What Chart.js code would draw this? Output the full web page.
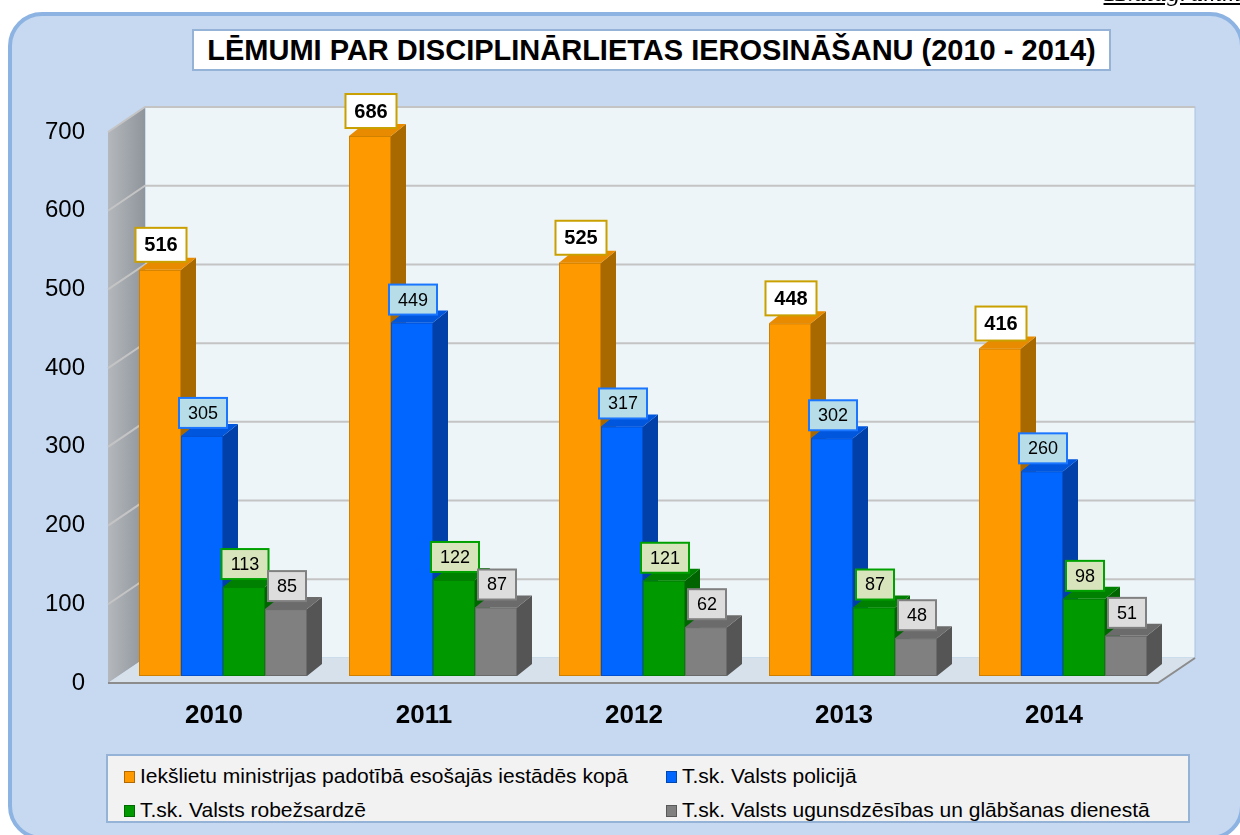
<!doctype html>
<html lang="lv">
<head>
  <meta charset="utf-8">
  <title>Lēmumi par disciplinārlietas ierosināšanu (2010 - 2014)</title>
  <style>
    * {
  margin: 0;
  padding: 0;
  box-sizing: border-box;
}
body {
  width: 1240px;
  height: 835px;
  overflow: hidden;
  position: relative;
  background: white;
  font-family: "Liberation Sans", Arial, sans-serif;
  color: black;
}
.diagNr {
  position: absolute;
  right: -14px;
  top: -22px;
  font-family: "Liberation Serif", "Times New Roman", serif;
  font-style: italic;
  font-size: 26px;
  line-height: 30px;
  text-decoration: underline;
  z-index: 3;
}
.panel {
  position: absolute;
  left: 8px;
  top: 12px;
  width: 1236px;
  height: 828px;
  background: #c6d9f1;
  border: 4px solid #8db3e2;
  border-radius: 34px;
}
#myChart {
  position: absolute;
  left: 0;
  top: 0;
  z-index: 1;
}
.titleBox {
  position: absolute;
  left: 192px;
  top: 29px;
  width: 919px;
  height: 42px;
  background: white;
  border: 2px solid #95b3d7;
  font-weight: bold;
  font-size: 29px;
  line-height: 38px;
  text-align: center;
  white-space: nowrap;
  z-index: 2;
}
.legendBox {
  position: absolute;
  left: 106px;
  top: 754px;
  width: 1084px;
  height: 69px;
  background: #f2f2f2;
  border: 2px solid #95b3d7;
  z-index: 2;
  font-size: 21px;
}
.legendBox span {
  position: absolute;
  white-space: nowrap;
  line-height: 24px;
}
.legendBox i {
  display: inline-block;
  width: 11px;
  height: 12px;
  margin-right: 5px;
  vertical-align: 0px;
  border: 1px solid rgba(0,0,0,0.3);
}
  </style>
</head>

<body>
  <div class="diagNr">11.diagramma</div>
  <div class="panel"></div>
  <div class="titleBox">LĒMUMI PAR DISCIPLINĀRLIETAS IEROSINĀŠANU (2010 - 2014)</div>
  <canvas id="myChart" width="1240" height="835"></canvas>
  <div class="legendBox" id="legend"></div>

  <script src="https://cdn.jsdelivr.net/npm/chart.js"></script>
  <script>
    // data
    const years = ['2010', '2011', '2012', '2013', '2014'];
    const seriesNames = [
      'Iekšlietu ministrijas padotībā esošajās iestādēs kopā',
      'T.sk. Valsts policijā',
      'T.sk. Valsts robežsardzē',
      'T.sk. Valsts ugunsdzēsības un glābšanas dienestā'
    ];
    const kopaa = [516, 686, 525, 448, 416];
    const policija = [305, 449, 317, 302, 260];
    const robezsardze = [113, 122, 121, 87, 98];
    const ugunsdzesiba = [85, 87, 62, 48, 51];
    const yTicks = [0, 100, 200, 300, 400, 500, 600, 700];

    // colours: front, side, top
    const colors = [
      { front: '#ff9900', side: '#a86a00', top: '#e88b00', edge: '#d08000' },
      { front: '#0066ff', side: '#0040a8', top: '#0056dd', edge: '#0050d0' },
      { front: '#009900', side: '#006400', top: '#008000', edge: '#008000' },
      { front: '#808080', side: '#555555', top: '#6b6b6b', edge: '#6a6a6a' }
    ];
    const labelBoxes = [
      { fill: '#ffffff', stroke: '#c9a000', font: 'bold 20px "Liberation Sans"', h: 34 },
      { fill: '#b7dee8', stroke: '#1a75ff', font: '18px "Liberation Sans"', h: 30 },
      { fill: '#d7e4bc', stroke: '#00a000', font: '18px "Liberation Sans"', h: 30 },
      { fill: '#dddddd', stroke: '#808080', font: '18px "Liberation Sans"', h: 30 }
    ];

    // 3D offsets
    const depth = { dx: 15, dy: -12 };
    const wall = { bx: 27, by: -18, fx: -10, fy: 7 };

    // legend (html)
    const legend = document.getElementById('legend');
    const legendPos = [[16, 8], [558, 8], [16, 42], [558, 42]];
    seriesNames.forEach((n, i) => {
      const s = document.createElement('span');
      s.style.left = legendPos[i][0] + 'px';
      s.style.top = legendPos[i][1] + 'px';
      s.innerHTML = '<i style="background:' + colors[i].front + '"></i>' + n;
      legend.appendChild(s);
    });

    const scene3d = {
      id: 'scene3d',
      beforeDatasetsDraw(chart) {
        const { ctx, chartArea: a, scales: { y } } = chart;
        const y0 = y.getPixelForValue(0);
        const yMax = y.getPixelForValue(700);
        const L = a.left, R = a.right;
        ctx.save();

        // back wall
        ctx.fillStyle = '#eef5f8';
        ctx.fillRect(L + wall.bx, yMax + wall.by, R - L, y0 - yMax);
        ctx.strokeStyle = '#a9c2dd';
        ctx.lineWidth = 1;
        ctx.strokeRect(L + wall.bx, yMax + wall.by, R - L, y0 - yMax);

        // left wall
        const g = ctx.createLinearGradient(L + wall.fx, 0, L + wall.bx, 0);
        g.addColorStop(0, '#b4b8bd');
        g.addColorStop(1, '#8f959b');
        ctx.fillStyle = g;
        ctx.beginPath();
        ctx.moveTo(L + wall.bx, yMax + wall.by);
        ctx.lineTo(L + wall.bx, y0 + wall.by);
        ctx.lineTo(L + wall.fx, y0 + wall.fy);
        ctx.lineTo(L + wall.fx, yMax + wall.fy);
        ctx.closePath();
        ctx.fill();

        // floor
        ctx.fillStyle = '#d6e1ec';
        ctx.beginPath();
        ctx.moveTo(L + wall.bx, y0 + wall.by);
        ctx.lineTo(R + wall.bx, y0 + wall.by);
        ctx.lineTo(R + wall.fx, y0 + wall.fy);
        ctx.lineTo(L + wall.fx, y0 + wall.fy);
        ctx.closePath();
        ctx.fill();
        ctx.strokeStyle = '#8c8c8c';
        ctx.lineWidth = 2;
        ctx.beginPath();
        ctx.moveTo(L + wall.fx, y0 + wall.fy);
        ctx.lineTo(R + wall.fx, y0 + wall.fy);
        ctx.lineTo(R + wall.bx, y0 + wall.by);
        ctx.stroke();

        // grid lines
        ctx.strokeStyle = '#c4c4c4';
        ctx.lineWidth = 2;
        yTicks.forEach(v => {
          if (v === 0) return;
          const py = y.getPixelForValue(v);
          ctx.beginPath();
          ctx.moveTo(L + wall.fx, py + wall.fy);
          ctx.lineTo(L + wall.bx, py + wall.by);
          ctx.lineTo(R + wall.bx, py + wall.by);
          ctx.stroke();
        });

        // bars, category by category, left to right
        const metas = chart.data.datasets.map((d, i) => chart.getDatasetMeta(i));
        years.forEach((yr, i) => {
          metas.forEach((meta, j) => {
            const b = meta.data[i].getProps(['x', 'y', 'base', 'width'], true);
            const x1 = b.x - b.width / 2, x2 = b.x + b.width / 2;
            const c = colors[j];
            // side
            ctx.fillStyle = c.side;
            ctx.beginPath();
            ctx.moveTo(x2, b.y);
            ctx.lineTo(x2 + depth.dx, b.y + depth.dy);
            ctx.lineTo(x2 + depth.dx, b.base + depth.dy);
            ctx.lineTo(x2, b.base);
            ctx.closePath();
            ctx.fill();
            // top
            ctx.fillStyle = c.top;
            ctx.beginPath();
            ctx.moveTo(x1, b.y);
            ctx.lineTo(x1 + depth.dx, b.y + depth.dy);
            ctx.lineTo(x2 + depth.dx, b.y + depth.dy);
            ctx.lineTo(x2, b.y);
            ctx.closePath();
            ctx.fill();
            // front
            ctx.fillStyle = c.front;
            ctx.fillRect(x1, b.y, b.width, b.base - b.y);
            ctx.strokeStyle = c.edge;
            ctx.lineWidth = 1;
            ctx.strokeRect(x1 + 0.5, b.y + 0.5, b.width - 1, b.base - b.y - 1);
          });
        });

        // value labels
        ctx.textAlign = 'center';
        ctx.textBaseline = 'middle';
        metas.forEach((meta, j) => {
          const st = labelBoxes[j];
          ctx.font = st.font;
          meta.data.forEach((el, i) => {
            const b = el.getProps(['x', 'y'], true);
            const txt = String(chart.data.datasets[j].data[i]);
            const w = Math.round(ctx.measureText(txt).width) + 18;
            const cx = b.x + 1;
            const bottom = b.y - 8;
            const top = bottom - st.h;
            ctx.fillStyle = st.fill;
            ctx.fillRect(cx - w / 2, top, w, st.h);
            ctx.strokeStyle = st.stroke;
            ctx.lineWidth = 2;
            ctx.strokeRect(cx - w / 2, top, w, st.h);
            ctx.fillStyle = 'black';
            ctx.fillText(txt, cx, top + st.h / 2 + 1);
          });
        });

        ctx.restore();
        return false;
      }
    };

    const data = {
      labels: years,
      datasets: [kopaa, policija, robezsardze, ugunsdzesiba].map((vals, i) => ({
        label: seriesNames[i],
        data: vals,
        backgroundColor: colors[i].front,
        categoryPercentage: 0.8,
        barPercentage: 1.0
      }))
    };

    const config = {
      type: 'bar',
      data,
      options: {
        responsive: false,
        animation: false,
        layout: {
          padding: { top: 125, right: 72, bottom: 0, left: 0 }
        },
        scales: {
          x: {
            grid: { display: false, drawTicks: false },
            border: { display: false },
            ticks: {
              color: 'black',
              padding: 24,
              labelOffset: -9,
              font: { family: 'Liberation Sans', size: 26, weight: 'bold' }
            },
            afterFit: (s) => { s.height = 159; }
          },
          y: {
            min: 0,
            max: 700,
            grid: { display: false, drawTicks: false },
            border: { display: false },
            afterBuildTicks: (s) => { s.ticks = yTicks.map(v => ({ value: v })); },
            ticks: {
              color: 'black',
              padding: 33,
              labelOffset: 7,
              font: { family: 'Liberation Sans', size: 24 }
            },
            afterFit: (s) => { s.width = 118; }
          }
        },
        plugins: {
          legend: { display: false },
          title: { display: false },
          tooltip: { enabled: false }
        }
      },
      plugins: [scene3d]
    };

    const myChart = new Chart(document.getElementById('myChart'), config);
  </script>
</body>
</html>
